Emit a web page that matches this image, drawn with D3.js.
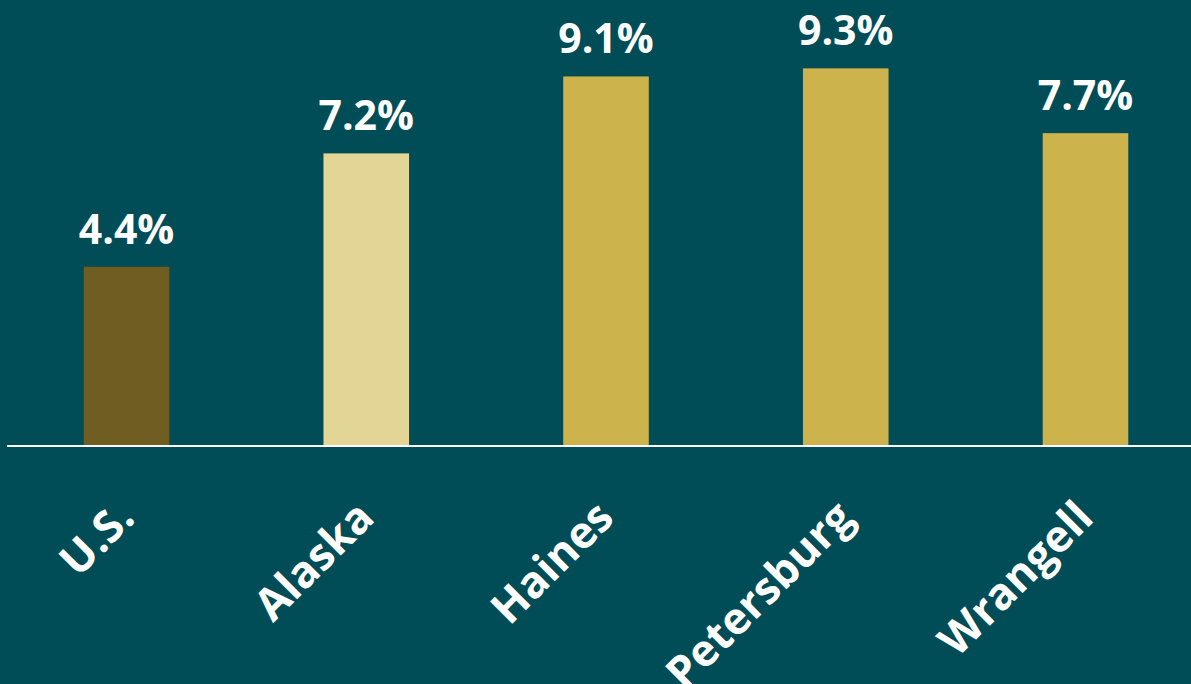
<!DOCTYPE html>
<html>
<head>
<meta charset="utf-8">
<script src="https://cdn.jsdelivr.net/npm/d3@7"></script>
<style>
  html, body { margin: 0; padding: 0; background: #004c57; }
  svg { display: block; }
</style>
</head>
<body>
<svg id="chart" width="1191" height="684"></svg>
<script>
const categories = ["U.S.", "Alaska", "Haines", "Petersburg", "Wrangell"];
const values = [4.4, 7.2, 9.1, 9.3, 7.7];
const valueLabels = ["4.4%", "7.2%", "9.1%", "9.3%", "7.7%"];
const barColors = ["#6f5d21", "#e2d595", "#cdb34b", "#cdb34b", "#cdb34b"];

const W = 1191, H = 684;
const svg = d3.select("#chart");
svg.append("rect").attr("width", W).attr("height", H).attr("fill", "#004c57");

const x = d3.scaleBand().domain(categories).range([7, 1205]).paddingInner(0.643).paddingOuter(0.32);
const y = d3.scaleLinear().domain([0, 10]).range([445, 40]);

svg.selectAll("rect.bar").data(categories).enter().append("rect")
  .attr("class", "bar")
  .attr("x", d => x(d))
  .attr("width", x.bandwidth())
  .attr("y", (d, i) => y(values[i]))
  .attr("height", (d, i) => y(0) - y(values[i]))
  .attr("fill", (d, i) => barColors[i]);

svg.append("line")
  .attr("x1", 7).attr("x2", W).attr("y1", y(0) + 1).attr("y2", y(0) + 1)
  .attr("stroke", "#ffffff").attr("stroke-width", 2);

svg.selectAll("text.val").data(categories).enter().append("text")
  .attr("class", "val")
  .attr("x", d => x(d) + x.bandwidth() / 2)
  .attr("y", (d, i) => y(values[i]) - 23)
  .attr("text-anchor", "middle")
  .attr("font-family", "'Open Sans', sans-serif")
  .attr("font-weight", "bold")
  .attr("font-size", 41)
  .attr("fill", "#ffffff")
  .text((d, i) => valueLabels[i]);

svg.selectAll("text.cat").data(categories).enter().append("text")
  .attr("class", "cat")
  .attr("transform", d => `translate(${x(d) + x.bandwidth() / 2 + 10},520) rotate(-45)`)
  .attr("text-anchor", "end")
  .attr("font-family", "'Open Sans', sans-serif")
  .attr("font-weight", "bold")
  .attr("font-size", 44)
  .attr("fill", "#ffffff")
  .text(d => d);
</script>
</body>
</html>
